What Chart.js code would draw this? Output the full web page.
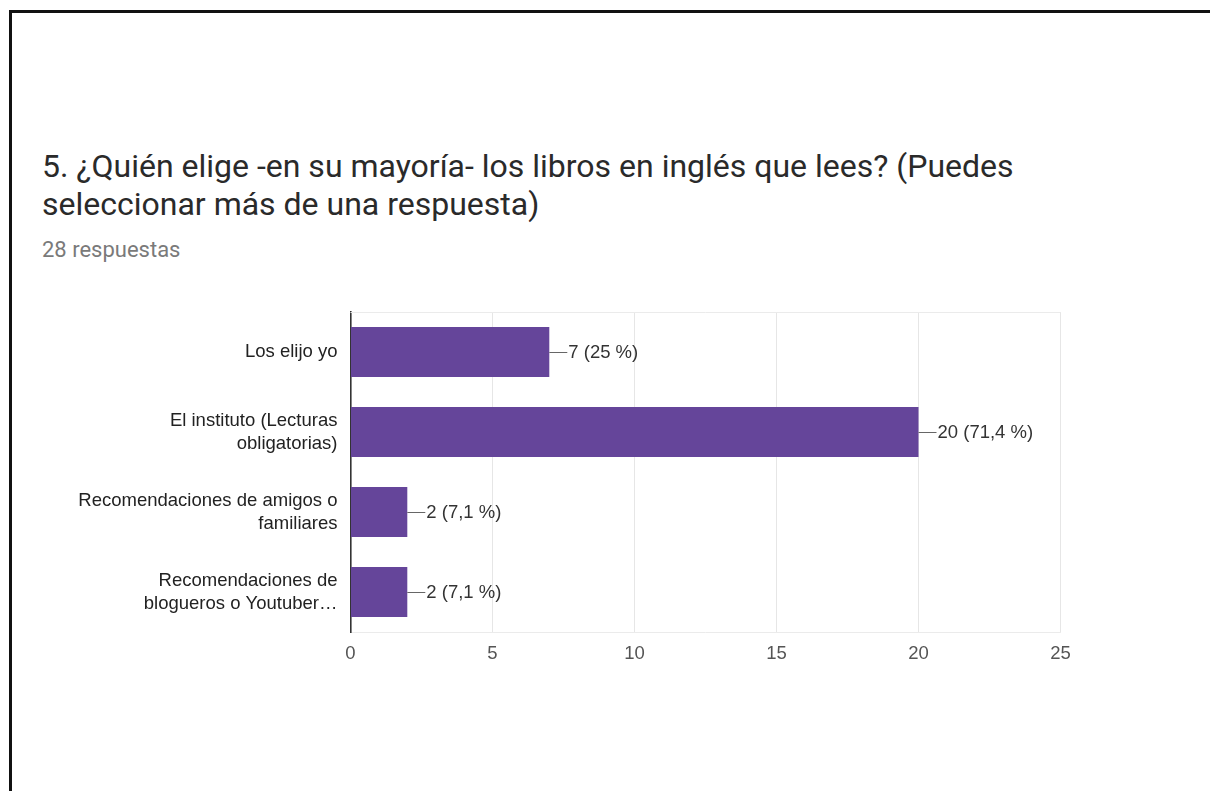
<!DOCTYPE html>
<html>
<head>
<meta charset="utf-8">
<script src="https://cdn.jsdelivr.net/npm/chart.js@4.4.1/dist/chart.umd.min.js"></script>
<style>
  html, body { margin: 0; padding: 0; background: #fff; width: 1210px; height: 791px; overflow: hidden; }
  #frame { position: absolute; left: 9px; top: 10px; width: 1300px; height: 900px;
           border-top: 3px solid #111; border-left: 3px solid #111; }
  #title { position: absolute; left: 42px; top: 147px; font-family: Roboto, sans-serif;
           font-size: 32px; line-height: 38px; color: #2a2a2a; white-space: nowrap; }
  #sub { position: absolute; left: 42px; top: 238px; font-family: Roboto, sans-serif;
         font-size: 22px; line-height: 24px; color: #7a7a7a; }
  #chart { position: absolute; left: 0; top: 0; }
</style>
</head>
<body>
<div id="frame"></div>
<div id="title">5. ¿Quién elige -en su mayoría- los libros en inglés que lees? (Puedes<br>seleccionar más de una respuesta)</div>
<div id="sub">28 respuestas</div>
<canvas id="chart" width="1210" height="791"></canvas>
<script>
// Answer options (wrapped the way the form shows them)
const categories = [
  ['Los elijo yo'],
  ['El instituto (Lecturas', 'obligatorias)'],
  ['Recomendaciones de amigos o', 'familiares'],
  ['Recomendaciones de', 'blogueros o Youtuber…']
];
// Number of people who picked each option
const counts = [7, 20, 2, 2];
// Total people who answered the question
const respondents = 28;
// Value-axis ticks
const xTicks = [0, 5, 10, 15, 20, 25];

const FONT = '"Liberation Sans", Arial, sans-serif';

function pctText(v) {
  const p = Math.round(v / respondents * 1000) / 10;
  return String(p).replace('.', ',') + ' %';
}

// Leader line + "n (p %)" next to each bar
const valueLabels = {
  id: 'valueLabels',
  afterDatasetsDraw(chart) {
    const ctx = chart.ctx;
    const meta = chart.getDatasetMeta(0);
    ctx.save();
    ctx.font = '18.5px ' + FONT;
    ctx.textAlign = 'left';
    ctx.textBaseline = 'middle';
    meta.data.forEach((bar, i) => {
      const v = counts[i];
      const x = bar.x, y = Math.round(bar.y) + 0.5;
      ctx.strokeStyle = '#666';
      ctx.lineWidth = 1;
      ctx.beginPath();
      ctx.moveTo(x, y);
      ctx.lineTo(x + 18, y);
      ctx.stroke();
      ctx.fillStyle = '#333';
      ctx.fillText(v + ' (' + pctText(v) + ')', x + 19, bar.y + 1);
    });
    ctx.restore();
  }
};

// Light rule along the top of the plot area
const topRule = {
  id: 'topRule',
  beforeDatasetsDraw(chart) {
    const { ctx, chartArea: a } = chart;
    ctx.save();
    ctx.strokeStyle = '#ebebeb';
    ctx.lineWidth = 1;
    ctx.beginPath();
    ctx.moveTo(a.left, Math.round(a.top) + 0.5);
    ctx.lineTo(a.right, Math.round(a.top) + 0.5);
    ctx.stroke();
    ctx.restore();
  }
};

new Chart(document.getElementById('chart'), {
  type: 'bar',
  data: {
    labels: categories,
    datasets: [{
      data: counts,
      backgroundColor: '#65459a',
      barPercentage: 0.625,
      categoryPercentage: 1.0
    }]
  },
  options: {
    indexAxis: 'y',
    responsive: false,
    animation: false,
    layout: { padding: { left: 0, right: 149.5, top: 312, bottom: 0 } },
    plugins: { legend: { display: false }, tooltip: { enabled: false } },
    scales: {
      x: {
        min: 0,
        max: 25,
        afterFit(scale) { scale.height = 159; },
        afterBuildTicks(scale) { scale.ticks = xTicks.map(v => ({ value: v })); },
        ticks: { color: '#555', padding: 11, font: { family: FONT, size: 18.5 } },
        grid: {
          drawTicks: false,
          color: ctx => (ctx.tick && ctx.tick.value === 0) ? 'rgba(0,0,0,0)' : '#e6e6e6'
        },
        border: { display: true, color: '#ebebeb', width: 1 }
      },
      y: {
        afterFit(scale) { scale.width = 350.5; },
        ticks: { color: '#222', padding: 5, font: { family: FONT, size: 18.5, lineHeight: 1.25 } },
        grid: { display: false },
        border: { display: true, color: '#333', width: 1.6 }
      }
    }
  },
  plugins: [topRule, valueLabels]
});
</script>
</body>
</html>
